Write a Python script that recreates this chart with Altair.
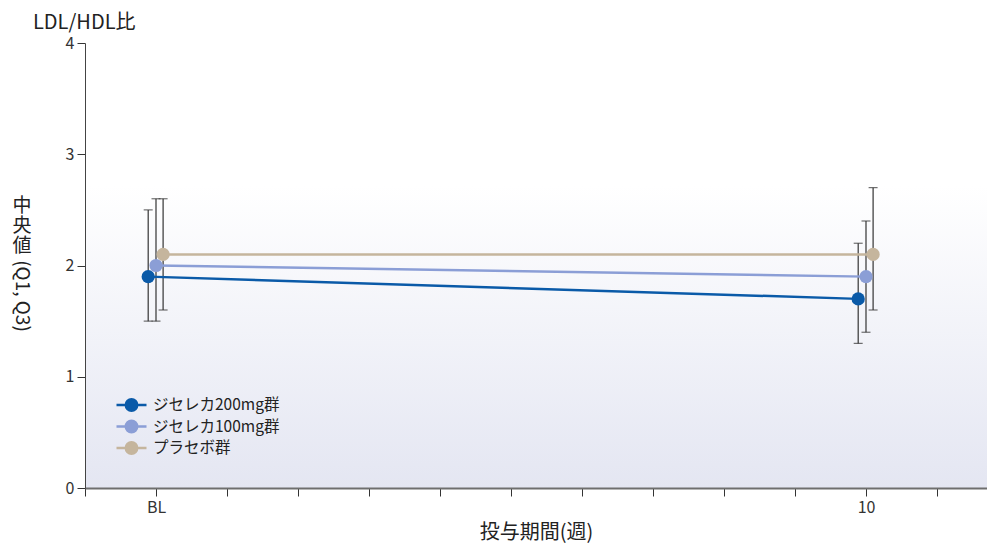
import altair as alt
import pandas as pd

groups = ["ジセレカ200mg群", "ジセレカ100mg群", "プラセボ群"]
colors = ["#0a5aa8", "#8b9ed6", "#c5b59d"]
weeks = [0, 10]
median_200 = [1.9, 1.7]
q1_200 = [1.5, 1.3]
q3_200 = [2.5, 2.2]
median_100 = [2.0, 1.9]
q1_100 = [1.5, 1.4]
q3_100 = [2.6, 2.4]
median_pl = [2.1, 2.1]
q1_pl = [1.6, 1.6]
q3_pl = [2.6, 2.7]
dodge = [-0.11, 0.0, 0.1]
x_ticks = list(range(-1, 12))
y_ticks = [0, 1, 2, 3, 4]

FONT = "Noto Sans CJK JP"
W, H = 902, 445

rows = []
for g, off, med, lo, hi in zip(groups, dodge,
                               [median_200, median_100, median_pl],
                               [q1_200, q1_100, q1_pl],
                               [q3_200, q3_100, q3_pl]):
    for i, w in enumerate(weeks):
        rows.append({"group": g, "week": w, "xpos": w + off,
                     "median": med[i], "q1": lo[i], "q3": hi[i]})
df = pd.DataFrame(rows)

xscale = alt.Scale(domain=[-1, -1 + W / 71.0], nice=False, zero=False)
yscale = alt.Scale(domain=[0, 4], nice=False)

xaxis = alt.Axis(values=x_ticks, grid=False, zindex=1,
                 labelExpr="datum.value == 0 ? 'BL' : (datum.value == 10 ? '10' : '')",
                 title="投与期間(週)", titleFontSize=20, titleFont=FONT,
                 titleFontWeight="normal", titleColor="#222", titlePadding=7,
                 labelFontSize=16, labelFont=FONT, labelColor="#333", labelPadding=3,
                 tickSize=8, tickColor="#333", domainColor="#6e6e6e", domainWidth=2,
                 labelFlush=False, labelOverlap=False)
yaxis = alt.Axis(values=y_ticks, grid=False, title=None, format="d", zindex=1,
                 labelFontSize=16, labelFont=FONT, labelColor="#333", labelPadding=3,
                 tickSize=8, tickColor="#333", domainColor="#444", domainWidth=1)

bg = alt.Chart(alt.Data(values=[{}])).mark_rect(
    color=alt.LinearGradient(
        gradient="linear", x1=0, x2=0, y1=0, y2=1,
        stops=[alt.GradientStop(offset=0, color="#ffffff"),
               alt.GradientStop(offset=0.32, color="#ffffff"),
               alt.GradientStop(offset=1, color="#e4e6f2")])
).encode(x=alt.value(0), x2=alt.value(W), y=alt.value(0), y2=alt.value(H))

base = alt.Chart(df)
x_enc = alt.X("xpos:Q", scale=xscale, axis=xaxis)

err = base.mark_rule(color="#333", strokeWidth=1.2).encode(
    x=x_enc, y=alt.Y("q1:Q", scale=yscale, axis=yaxis), y2="q3:Q")
cap_lo = base.mark_tick(color="#333", thickness=1.2, size=9, orient="horizontal").encode(
    x=x_enc, y=alt.Y("q1:Q", scale=yscale))
cap_hi = base.mark_tick(color="#333", thickness=1.2, size=9, orient="horizontal").encode(
    x=x_enc, y=alt.Y("q3:Q", scale=yscale))

cscale = alt.Scale(domain=groups, range=colors)

sym = ("M-1,0L1,0"
       "M-0.38,0A0.38,0.38,0,1,1,0.38,0A0.38,0.38,0,1,1,-0.38,0"
       "M-0.26,0A0.26,0.26,0,1,1,0.26,0A0.26,0.26,0,1,1,-0.26,0"
       "M-0.14,0A0.14,0.14,0,1,1,0.14,0A0.14,0.14,0,1,1,-0.14,0"
       "M-0.04,0A0.04,0.04,0,1,1,0.04,0A0.04,0.04,0,1,1,-0.04,0")
legend = alt.Legend(
    title=None, orient="none", legendX=30, legendY=352, padding=0,
    symbolType=sym, symbolSize=900, symbolStrokeWidth=2.5, clipHeight=20, rowPadding=1.5,
    labelFontSize=15.5, labelFont=FONT, labelColor="#222", labelOffset=5)

color_enc = alt.Color("group:N", scale=cscale, legend=legend, sort=groups)

lines = base.mark_line(strokeWidth=2.5).encode(
    x=x_enc, y=alt.Y("median:Q", scale=yscale), color=color_enc)

points = base.mark_point(filled=True, size=175, opacity=1).encode(
    x=x_enc, y=alt.Y("median:Q", scale=yscale), color=color_enc)

one = alt.Data(values=[{}])
t_top = alt.Chart(one).mark_text(font=FONT, fontSize=20, color="#222", align="left",
                                 baseline="alphabetic").encode(
    x=alt.value(-52), y=alt.value(-14), text=alt.value("LDL/HDL比"))
vt = []
for ch, yy in zip(["中", "央", "値"], [163, 183, 203]):
    vt.append(alt.Chart(one).mark_text(font=FONT, fontSize=19, color="#222", align="center",
                                       baseline="middle").encode(
        x=alt.value(-63), y=alt.value(yy), text=alt.value(ch)))
vt.append(alt.Chart(one).mark_text(font=FONT, fontSize=19, color="#222", align="center",
                                   baseline="middle", angle=90).encode(
    x=alt.value(-63), y=alt.value(253), text=alt.value("(Q1, Q3)")))

chart = alt.layer(bg, err, cap_lo, cap_hi, lines, points, t_top, *vt).properties(
    width=W, height=H,
    autosize=alt.AutoSizeParams(type="none"),
    padding={"left": 77, "top": 35, "right": 0, "bottom": 60},
).configure_view(stroke=None).configure(font=FONT)

chart.save("out.html", embed_options={"renderer": "svg", "actions": False})
